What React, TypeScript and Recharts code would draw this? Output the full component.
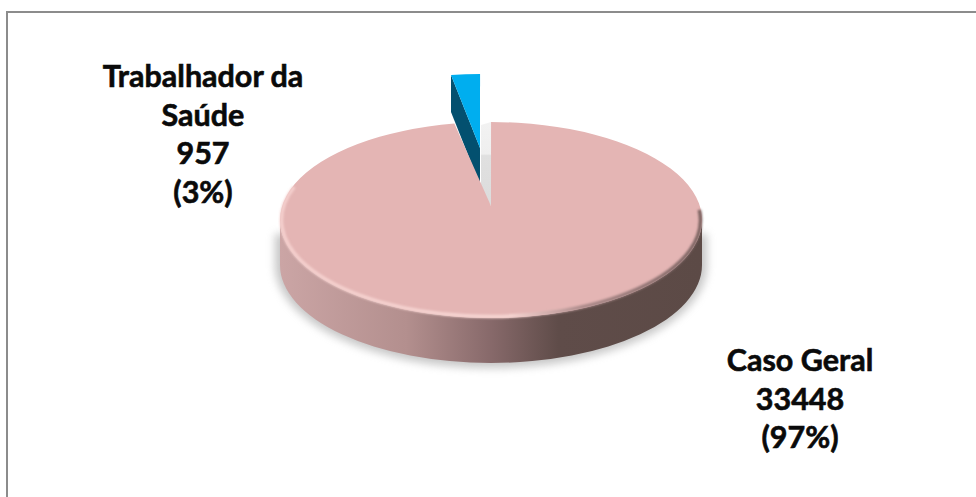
import React from "react";
import { PieChart, Pie, Cell } from "recharts";

const categories = ["Trabalhador da Saúde", "Caso Geral"];
const values = [957, 33448];
const percents = ["(3%)", "(97%)"];
const labelLines = [["Trabalhador da", "Saúde"], ["Caso Geral"]];
const fills = ["#00aeef", "#e4b5b4"];

const W = 976, H = 497;
const CX = 491, CY = 220, R = 211, RY = 98, DEPTH = 45, APEX_DY = -14;
const SLICE = { dx: -11, dy: -58, r: 167, ry: 74, depth: 37 };
const LABEL_POS = [{ x: 203, y: 87 }, { x: 800, y: 371 }];
const LINE_H = 38.5;

const rad = (a: number) => (a * Math.PI) / 180;

function MainShape(p: any) {
  const { cx, cy, outerRadius: r, startAngle, endAngle, fill } = p;
  const ry = RY;
  const ax = cx, ay = cy + APEX_DY;
  const pt = (a: number) => [cx + r * Math.cos(rad(a)), cy - ry * Math.sin(rad(a))];
  const [sx, sy] = pt(startAngle);
  const [ex, ey] = pt(endAngle);
  const top = `M${ax},${ay} L${sx},${sy} A${r},${ry} 0 1 1 ${ex},${ey} Z`;
  const wall = `M${cx - r},${cy} L${cx - r},${cy + DEPTH} A${r},${ry} 0 0 0 ${cx + r},${cy + DEPTH} L${cx + r},${cy} A${r},${ry} 0 0 1 ${cx - r},${cy} Z`;
  const sr = r + 5;
  const shadow = `M${cx - sr},${cy + 14} L${cx - sr},${cy + DEPTH} A${sr},${ry + 5} 0 0 0 ${cx + sr},${cy + DEPTH} L${cx + sr},${cy + 14} Z`;
  const rr = r - 1.5, rry = ry - 1.5;
  const rp = (a: number) => [cx + rr * Math.cos(rad(a)), cy - rry * Math.sin(rad(a))];
  const [r0x, r0y] = rp(160);
  const [r1x, r1y] = rp(6);
  const rim = `M${r0x},${r0y} A${rr},${rry} 0 1 0 ${r1x},${r1y}`;
  const notch = `M${ax},${ay} L${ax - 10},${ay - 16} L${ax - 10},${cy - ry + 3} L${sx},${sy} Z`;
  return (
    <g>
      <path d={shadow} fill="#8e8e8e" opacity={0.5} filter="url(#soft)" />
      <path d={wall} fill="url(#wallGrad)" />
      <path d={notch} fill="url(#notchGrad)" />
      <path d={top} fill={fill} />
      <path d={rim} fill="none" stroke="url(#rimGrad)" strokeWidth={3.5} filter="url(#softRim)" />
    </g>
  );
}

function SliceShape(p: any) {
  const { cx, cy, startAngle, endAngle, fill } = p;
  const ax = cx + SLICE.dx, ay = cy + APEX_DY + SLICE.dy;
  const pt = (a: number) => [ax + SLICE.r * Math.cos(rad(a)), ay - SLICE.ry * Math.sin(rad(a))];
  const [sx, sy] = pt(startAngle);
  const [ex, ey] = pt(endAngle);
  const top = `M${ax},${ay} L${sx},${sy} A${SLICE.r},${SLICE.ry} 0 0 1 ${ex},${ey} Z`;
  const side = `M${sx},${sy} L${sx},${sy + SLICE.depth} L${ax},${ay + SLICE.depth} L${ax},${ay} Z`;
  return (
    <g>
      <path d={side} fill="#03506f" />
      <path d={top} fill={fill} />
    </g>
  );
}

const renderShape = (p: any) =>
  p.index === 0 ? <SliceShape {...p} /> : <MainShape {...p} />;

const renderLabel = (p: any) => {
  const i = p.index;
  const lines = [...labelLines[i], String(values[i]), percents[i]];
  const pos = LABEL_POS[i];
  return (
    <text
      x={pos.x}
      y={pos.y}
      textAnchor="middle"
      fontFamily="Lato, Carlito, sans-serif"
      fontWeight={700}
      fontSize={30.5}
      fill="#0a0a0a"
      stroke="#0a0a0a"
      strokeWidth={0.6}
    >
      {lines.map((l, k) => (
        <tspan key={k} x={pos.x} y={pos.y + k * LINE_H}>
          {l}
        </tspan>
      ))}
    </text>
  );
};

const data = categories.map((name, i) => ({ name, value: values[i] }));

export default function App() {
  return (
    <div style={{ position: "absolute", left: 0, top: 0, width: W, height: H, background: "#fff", overflow: "hidden" }}>
      <div
        style={{
          position: "absolute",
          left: 6,
          top: 11,
          width: W,
          height: H,
          borderLeft: "2px solid #8c8c8c",
          borderTop: "2px solid #8c8c8c",
          boxSizing: "border-box",
        }}
      />
      <div style={{ position: "absolute", left: 0, top: 0 }}>
        <PieChart width={W} height={H} margin={{ top: 0, right: 0, bottom: 0, left: 0 }}>
          <defs>
            <linearGradient id="wallGrad" x1="0" y1="0" x2="1" y2="0">
              <stop offset="0" stopColor="#cba5a5" />
              <stop offset="0.3" stopColor="#b38f8e" />
              <stop offset="0.5" stopColor="#87696a" />
              <stop offset="0.66" stopColor="#5f4c49" />
              <stop offset="1" stopColor="#5c4a46" />
            </linearGradient>
            <linearGradient id="rimGrad" x1="0" y1="0" x2="1" y2="0">
              <stop offset="0" stopColor="#f4cfcd" />
              <stop offset="0.55" stopColor="#f6d5d2" />
              <stop offset="0.72" stopColor="#a98888" />
              <stop offset="1" stopColor="#7a6260" />
            </linearGradient>
            <linearGradient id="notchGrad" x1="0" y1="0" x2="0" y2="1">
              <stop offset="0" stopColor="#f2f2f2" />
              <stop offset="0.38" stopColor="#efefef" />
              <stop offset="0.4" stopColor="#e0e0e0" />
              <stop offset="1" stopColor="#dcdcdc" />
            </linearGradient>
            <filter id="soft" x="-10%" y="-30%" width="120%" height="160%">
              <feGaussianBlur stdDeviation="4" />
            </filter>
            <filter id="softRim" x="-5%" y="-10%" width="110%" height="120%">
              <feGaussianBlur stdDeviation="1.2" />
            </filter>
          </defs>
          <Pie
            data={data}
            dataKey="value"
            nameKey="name"
            cx={CX}
            cy={CY}
            innerRadius={0}
            outerRadius={R}
            startAngle={100}
            endAngle={-260}
            paddingAngle={0}
            stroke="none"
            isAnimationActive={false}
            shape={renderShape}
            label={renderLabel}
            labelLine={false}
          >
            {data.map((d, i) => (
              <Cell key={d.name} fill={fills[i]} />
            ))}
          </Pie>
        </PieChart>
      </div>
    </div>
  );
}
